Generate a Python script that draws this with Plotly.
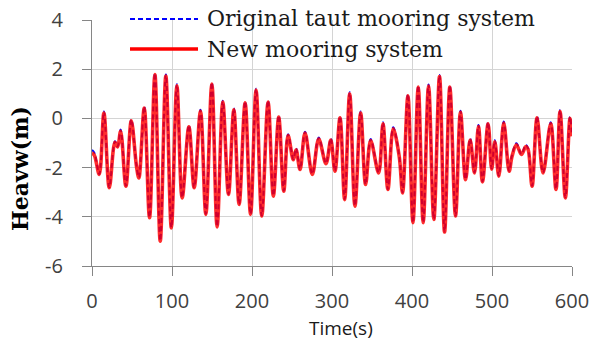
import plotly.graph_objects as go

# ---- data (knots at peaks / troughs) ----
time_s = [0, 3, 9.1, 14.9, 21.6, 28.7, 32.0, 35.8, 42.4, 49.1,
          55.7, 58.6, 65.3, 71.9, 78.6, 85.3, 92.3, 99.2, 106.1, 112.7,
          121.1, 127.7, 135.6, 142.3, 149.8, 156.4, 163.5, 170.6, 177.3, 183.9,
          191.4, 198.2, 205.1, 212.2, 220.1, 226.7, 233.4, 239.7, 245.1, 251.7,
          255.1, 260.0, 266.3, 275.4, 283.4, 292.5, 298.5, 303.7, 310.0, 315.8,
          322.1, 328.7, 335.8, 342.0, 348.3, 358.3, 363.7, 369.9, 376.5, 384.0,
          388.2, 394.9, 401.2, 407.8, 414.0, 420.7, 427.3, 434.4, 440.7, 447.3,
          454.4, 460.6, 466.9, 472.7, 478.1, 483.1, 488.1, 495.1, 499.6, 503.5,
          508.5, 514.7, 521.4, 525.0, 530.5, 536.8, 542.2, 545.0, 550.1, 556.3,
          563.8, 573.4, 580.0, 585.1, 591.7, 597.5, 600]

heave_original = [-1.28, -1.40, -2.26, 0.28, -2.80, -0.93, -1.14, -0.45, -2.74, -0.05,
                  -1.94, -2.40, 0.48, -4.02, 1.84, -4.97, 1.78, -4.43, 1.39, -3.21,
                  -0.28, -2.80, 0.35, -3.88, 1.46, -4.39, 0.72, -3.07, 0.41, -3.48,
                  0.69, -3.88, 1.21, -3.95, 0.72, -3.14, 0.11, -2.94, -0.64, -1.66,
                  -1.22, -2.06, -0.54, -2.26, -0.78, -1.82, -0.82, -2.13, 0.08, -3.28,
                  1.06, -3.55, 0.28, -2.67, -0.84, -2.20, -0.16, -2.87, -0.36, -1.52,
                  -3.01, 0.98, -4.22, 1.33, -4.22, 1.38, -4.09, 1.76, -4.60, 1.33,
                  -3.95, 0.31, -2.47, -0.82, -2.20, -0.27, -2.56, -0.16, -2.04, -0.89,
                  -2.33, -0.13, -2.13, -1.50, -1.01, -1.45, -1.08, -1.21, -2.74, 0.08,
                  -2.20, -0.16, -2.87, 0.34, -3.21, 0.06, -0.70]

heave_new = [-1.40, -1.50, -2.28, 0.22, -2.82, -0.97, -1.16, -0.52, -2.76, -0.10,
             -1.97, -2.42, 0.42, -4.04, 1.78, -4.99, 1.72, -4.45, 1.33, -3.23,
             -0.34, -2.82, 0.29, -3.90, 1.40, -4.41, 0.66, -3.09, 0.35, -3.50,
             0.63, -3.90, 1.15, -3.97, 0.66, -3.16, 0.05, -2.96, -0.70, -1.68,
             -1.28, -2.08, -0.60, -2.28, -0.84, -1.84, -0.88, -2.15, 0.02, -3.30,
             1.00, -3.57, 0.22, -2.69, -0.90, -2.22, -0.22, -2.89, -0.42, -1.54,
             -3.03, 0.92, -4.24, 1.27, -4.24, 1.32, -4.11, 1.70, -4.62, 1.27,
             -3.97, 0.25, -2.49, -0.88, -2.22, -0.33, -2.58, -0.22, -2.06, -0.95,
             -2.35, -0.19, -2.15, -1.55, -1.07, -1.47, -1.14, -1.25, -2.76, 0.02,
             -2.22, -0.22, -2.89, 0.28, -3.23, 0.00, -0.73]

x_ticks = [0, 100, 200, 300, 400, 500, 600]
y_ticks = [-6, -4, -2, 0, 2, 4]
y_tick_labels = ["-6", "-4", "-2", "0", "2", "4"]
series_names = ["Original taut mooring system", "New mooring system"]

# ---- figure ----
W, H = 595, 343
L, R, T, B = 92, 23, 20, 77
pw, ph = W - L - R, H - T - B

def px_x(p):
    return (p - L) / pw

def px_y(p):
    return (H - B - p) / ph

fig = go.Figure()
fig.add_trace(go.Scatter(
    x=time_s, y=heave_original, mode="lines", name=series_names[0],
    line=dict(color="#0000FF", width=2, dash="5px,3px", shape="spline", smoothing=1.0),
    showlegend=False))
fig.add_trace(go.Scatter(
    x=time_s, y=heave_new, mode="lines", name=series_names[1], opacity=0.82,
    line=dict(color="#FF0000", width=3.6, shape="spline", smoothing=1.0),
    showlegend=False))

axis_common = dict(
    automargin=False,
    showgrid=True, gridcolor="#d4d4d4", gridwidth=1.3,
    showline=True, linecolor="#868686", linewidth=1.2,
    ticks="outside", ticklen=9, tickcolor="#868686", tickwidth=1.2,
    zeroline=False,
    tickfont=dict(family="Open Sans", size=20, color="#404040"),
)

fig.update_xaxes(range=[0, 600], tickvals=x_ticks, ticklabelstandoff=8, **axis_common)
fig.update_yaxes(range=[-6, 4], tickvals=y_ticks, ticktext=y_tick_labels,
                 ticklabelstandoff=15, **axis_common)

# custom legend (long sample lines like the reference)
leg_y = [19, 49]
leg_styles = [dict(color="#0000FF", width=2.2, dash="5px,3px"),
              dict(color="#FF0000", width=3.6)]
shapes = []
annotations = []
for name, yy, st in zip(series_names, leg_y, leg_styles):
    shapes.append(dict(type="line", xref="paper", yref="paper",
                       x0=px_x(130), x1=px_x(198), y0=px_y(yy), y1=px_y(yy),
                       line=st))
    annotations.append(dict(text=name, xref="paper", yref="paper",
                            x=px_x(205), y=px_y(yy), xanchor="left", yanchor="middle",
                            showarrow=False,
                            font=dict(family="DejaVu Serif", size=22, color="#1a1a1a")))

annotations.append(dict(text="Time(s)", xref="paper", yref="paper",
                        x=px_x(341), y=px_y(328), xanchor="center", yanchor="middle",
                        showarrow=False,
                        font=dict(family="Open Sans", size=19, color="#1a1a1a")))
annotations.append(dict(text="<b>Heavw(m)</b>", xref="paper", yref="paper",
                        x=px_x(20), y=px_y(169), xanchor="center", yanchor="middle",
                        textangle=-90, showarrow=False,
                        font=dict(family="DejaVu Serif", size=22, color="#000000")))

fig.update_layout(
    width=W, height=H,
    margin=dict(l=L, r=R, t=T, b=B, pad=0, autoexpand=False),
    paper_bgcolor="white", plot_bgcolor="white",
    shapes=shapes, annotations=annotations,
    showlegend=False,
)

fig.write_html("out.html")
